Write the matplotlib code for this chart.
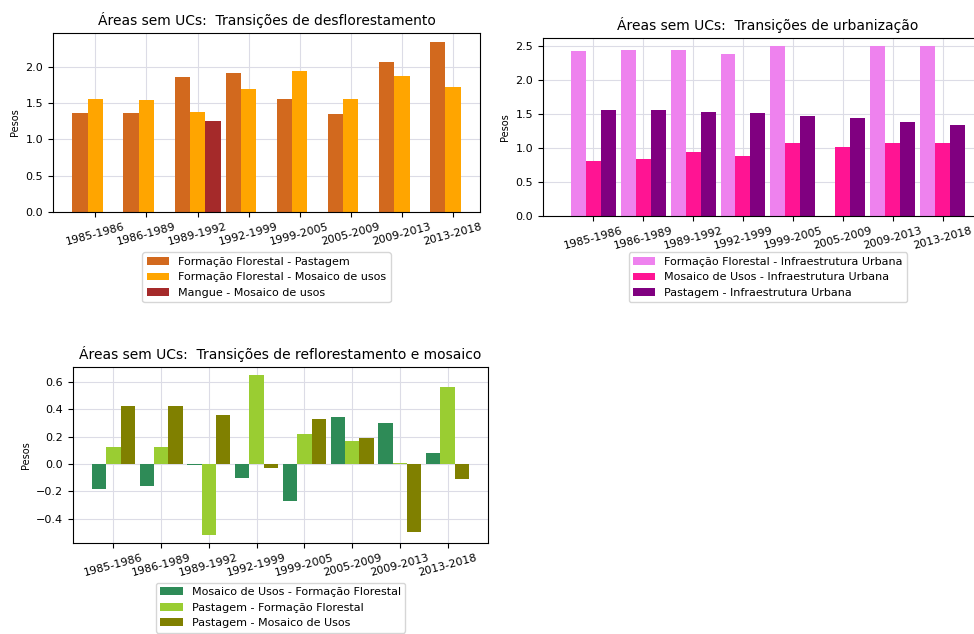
import matplotlib
matplotlib.use('Agg')
import matplotlib.pyplot as plt
import numpy as np

periodos = ['1985-1986', '1986-1989', '1989-1992', '1992-1999',
            '1999-2005', '2005-2009', '2009-2013', '2013-2018']

# desflorestamento
ff_pastagem = [1.37, 1.37, 1.86, 1.91, 1.56, 1.35, 2.07, 2.35]
ff_mosaico = [1.56, 1.54, 1.38, 1.70, 1.95, 1.56, 1.87, 1.73]
mangue_mosaico = [np.nan, np.nan, 1.26, np.nan, np.nan, np.nan, np.nan, np.nan]

# urbanizacao
ff_urbana = [2.43, 2.44, 2.44, 2.38, 2.49, np.nan, 2.49, 2.49]
mosaico_urbana = [0.81, 0.83, 0.94, 0.88, 1.07, 1.02, 1.07, 1.07]
pastagem_urbana = [1.56, 1.56, 1.53, 1.52, 1.47, 1.44, 1.38, 1.34]

# reflorestamento e mosaico
mosaico_ff = [-0.18, -0.16, -0.005, -0.10, -0.27, 0.34, 0.30, 0.08]
pastagem_ff = [0.126, 0.126, -0.52, 0.65, 0.22, 0.17, 0.005, 0.56]
pastagem_mosaico = [0.42, 0.42, 0.36, -0.03, 0.33, 0.19, -0.50, -0.11]

plt.rcParams.update({'font.size': 8})

fig = plt.figure(figsize=(9.74, 6.34), dpi=100)
ind = np.arange(len(periodos))
width = 0.3


def barras(ax, series, cores, nomes):
    for k, (vals, cor, nome) in enumerate(zip(series, cores, nomes)):
        vals = np.array(vals, dtype=float)
        ok = ~np.isnan(vals)
        ax.bar(ind[ok] + (k - 1) * width, vals[ok], width, color=cor, label=nome, zorder=2)
    ax.set_xticks(ind)
    ax.set_xticklabels(periodos, rotation=15, ha='center')
    ax.set_ylabel('Pesos', fontsize=7)
    ax.grid(True, color='#dcdce6', linewidth=0.8, zorder=0)


ax1 = fig.add_axes([0.0544, 0.6656, 0.4384, 0.2823])
barras(ax1, [ff_pastagem, ff_mosaico, mangue_mosaico],
       ['chocolate', 'orange', 'brown'],
       ['Formação Florestal - Pastagem', 'Formação Florestal - Mosaico de usos',
        'Mangue - Mosaico de usos'])
ax1.set_title('Áreas sem UCs:  Transições de desflorestamento', fontsize=10)
ax1.legend(loc='upper center', bbox_to_anchor=(0.5, -0.225), borderaxespad=0)

ax2 = fig.add_axes([0.5575, 0.6593, 0.462, 0.2808])
barras(ax2, [ff_urbana, mosaico_urbana, pastagem_urbana],
       ['violet', 'deeppink', 'purple'],
       ['Formação Florestal - Infraestrutura Urbana', 'Mosaico de Usos - Infraestrutura Urbana',
        'Pastagem - Infraestrutura Urbana'])
ax2.set_xlim(-1.0, 8.0)
ax2.set_title('Áreas sem UCs:  Transições de urbanização', fontsize=10)
ax2.legend(loc='upper center', bbox_to_anchor=(0.5, -0.205), borderaxespad=0)

ax3 = fig.add_axes([0.075, 0.1435, 0.426, 0.2776])
barras(ax3, [mosaico_ff, pastagem_ff, pastagem_mosaico],
       ['seagreen', 'yellowgreen', 'olive'],
       ['Mosaico de Usos - Formação Florestal', 'Pastagem - Formação Florestal',
        'Pastagem - Mosaico de Usos'])
ax3.set_title('Áreas sem UCs:  Transições de reflorestamento e mosaico', fontsize=10)
ax3.legend(loc='upper center', bbox_to_anchor=(0.5, -0.225), borderaxespad=0)

fig.savefig('out.png', dpi=100)
